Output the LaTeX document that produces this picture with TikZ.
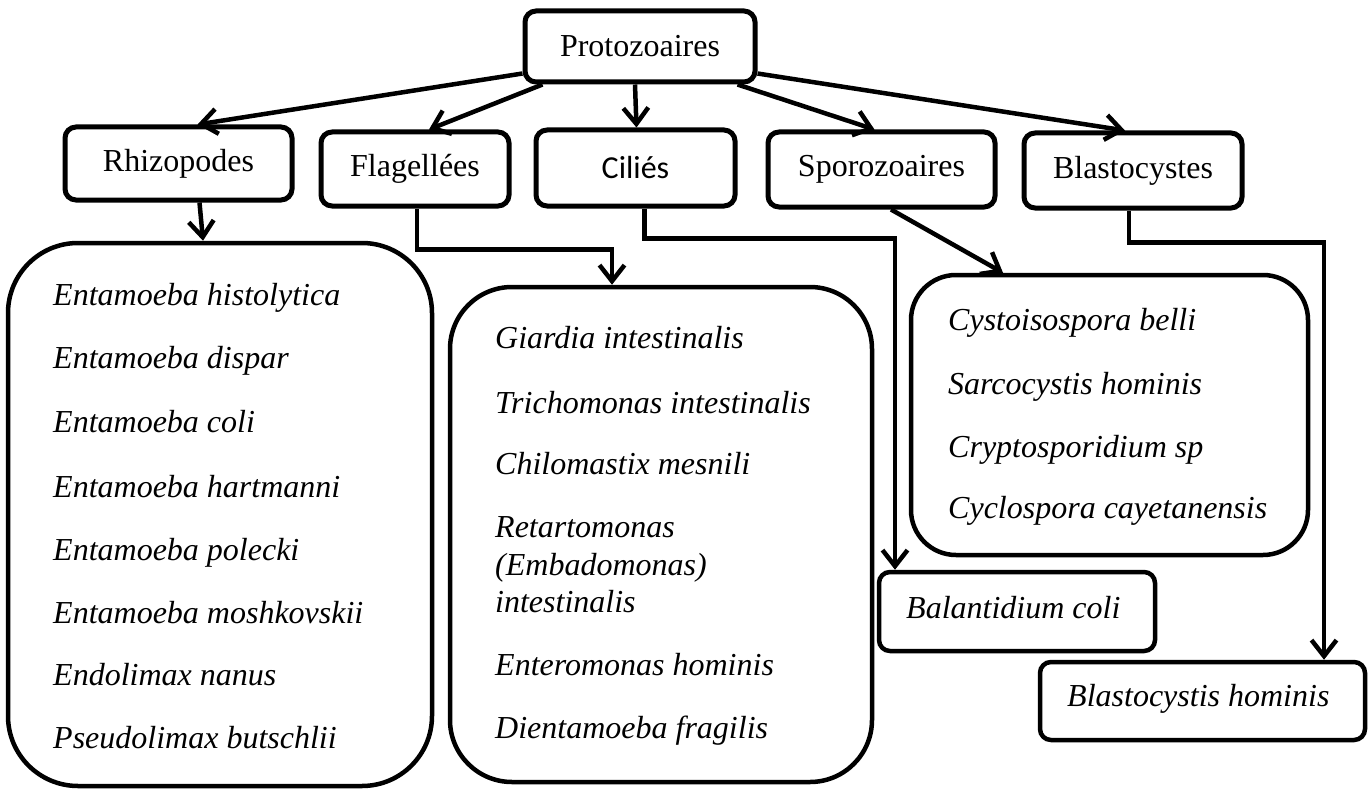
\documentclass[tikz,border=0pt]{standalone}
\usepackage{fontspec}
\setmainfont{Liberation Serif}
\newfontfamily\carlito{Carlito}
\usetikzlibrary{arrows.meta}
\begin{document}
\begin{tikzpicture}[x=1pt,y=-1pt,
  hbox/.style={draw, line width=5pt, rounded corners=11pt, inner sep=0pt, font=\fontsize{32}{38}\selectfont},
  lbox/.style={draw, line width=4.5pt, inner sep=0pt},
  item/.style={anchor=base west, inner sep=0pt, font=\fontsize{32}{38}\selectfont\itshape},
  conn/.style={line width=4.5pt, -{Straight Barb[length=16pt,width=25pt]}}]
\fill[white] (0,0) rectangle (1371,789);
\useasboundingbox (0,0) rectangle (1371,789);

% header boxes
\node[hbox, minimum width=230pt, minimum height=71pt] (proto) at (640,46.5) {Protozoaires};
\node[hbox, minimum width=227pt, minimum height=73pt] (rhizo) at (178.5,163.5) {Rhizopodes};
\node[hbox, minimum width=188pt, minimum height=74pt] (flag) at (415,169) {Flagellées};
\node[hbox, minimum width=199pt, minimum height=76pt, font=\fontsize{32}{38}\carlito] (cil) at (635.5,168) {Ciliés};
\node[hbox, minimum width=227pt, minimum height=75pt] (sporo) at (881.5,169.5) {Sporozoaires};
\node[hbox, minimum width=218pt, minimum height=75pt] (blasto) at (1133,170.5) {Blastocystes};

% list boxes
\node[lbox, rounded corners=70pt, minimum width=424pt, minimum height=543pt] (rlist) at (220,514.5) {};
\node[lbox, rounded corners=62pt, minimum width=422pt, minimum height=495pt] (flist) at (661,534.5) {};
\node[lbox, rounded corners=45pt, minimum width=397pt, minimum height=280pt] (slist) at (1109.5,415) {};
\node[lbox, rounded corners=11pt, minimum width=276pt, minimum height=79pt] (balan) at (1017,611.5) {};
\node[lbox, rounded corners=11pt, minimum width=325pt, minimum height=78pt] (bhom) at (1202.5,701) {};

% Rhizopodes items
\node[item] (r1) at (53,305) {Entamoeba histolytica};
\node[item] (r2) at (53,368) {Entamoeba dispar};
\node[item] (r3) at (53,432) {Entamoeba coli};
\node[item] (r4) at (53,497) {Entamoeba hartmanni};
\node[item] (r5) at (53,560) {Entamoeba polecki};
\node[item] (r6) at (53,623) {Entamoeba moshkovskii};
\node[item] (r7) at (53,685) {Endolimax nanus};
\node[item] (r8) at (53,748) {Pseudolimax butschlii};

% Flagellees items
\node[item] (f1) at (495,348) {Giardia intestinalis};
\node[item] (f2) at (495,413) {Trichomonas intestinalis};
\node[item] (f3) at (495,474) {Chilomastix mesnili};
\node[item] (f4a) at (495,537) {Retartomonas};
\node[item] (f4b) at (495,575) {(Embadomonas)};
\node[item] (f4c) at (495,612) {intestinalis};
\node[item] (f5) at (495,675) {Enteromonas hominis};
\node[item] (f6) at (495,738) {Dientamoeba fragilis};

% Sporozoaires items
\node[item] (s1) at (948,330) {Cystoisospora belli};
\node[item] (s2) at (948,394) {Sarcocystis hominis};
\node[item] (s3) at (948,457) {Cryptosporidium sp};
\node[item] (s4) at (948,518) {Cyclospora cayetanensis};

\node[item] (c1) at (906,618) {Balantidium coli};
\node[item] (b1) at (1067,706) {Blastocystis hominis};

% connectors from Protozoaires
\draw[conn] ([yshift=-27pt]proto.west) -- ([xshift=19pt]rhizo.north);
\draw[conn] ([xshift=20pt]proto.south west) -- ([xshift=14pt]flag.north);
\draw[conn] ([xshift=-5pt]proto.south) -- ([xshift=1pt]cil.north);
\draw[conn] ([xshift=-20pt]proto.south east) -- ([xshift=-7pt]sporo.north);
\draw[conn] ([yshift=-27pt]proto.east) -- ([xshift=-8pt]blasto.north);

% connectors to lists
\draw[conn] ([xshift=21pt]rhizo.south) -- ([xshift=-17pt]rlist.north);
\draw[conn] ([xshift=2pt]flag.south) -- ++(0,41) -| ([xshift=-49pt]flist.north);
\draw[conn] ([xshift=9pt]cil.south) -- ++(0,30) -| ([xshift=-122pt]balan.north);
\draw[conn] ([xshift=9.5pt]sporo.south) -- ([xshift=-106.5pt]slist.north);
\draw[conn] ([xshift=-4pt]blasto.south) -- ++(0,32) -| ([xshift=121.5pt]bhom.north);
\end{tikzpicture}
\end{document}
